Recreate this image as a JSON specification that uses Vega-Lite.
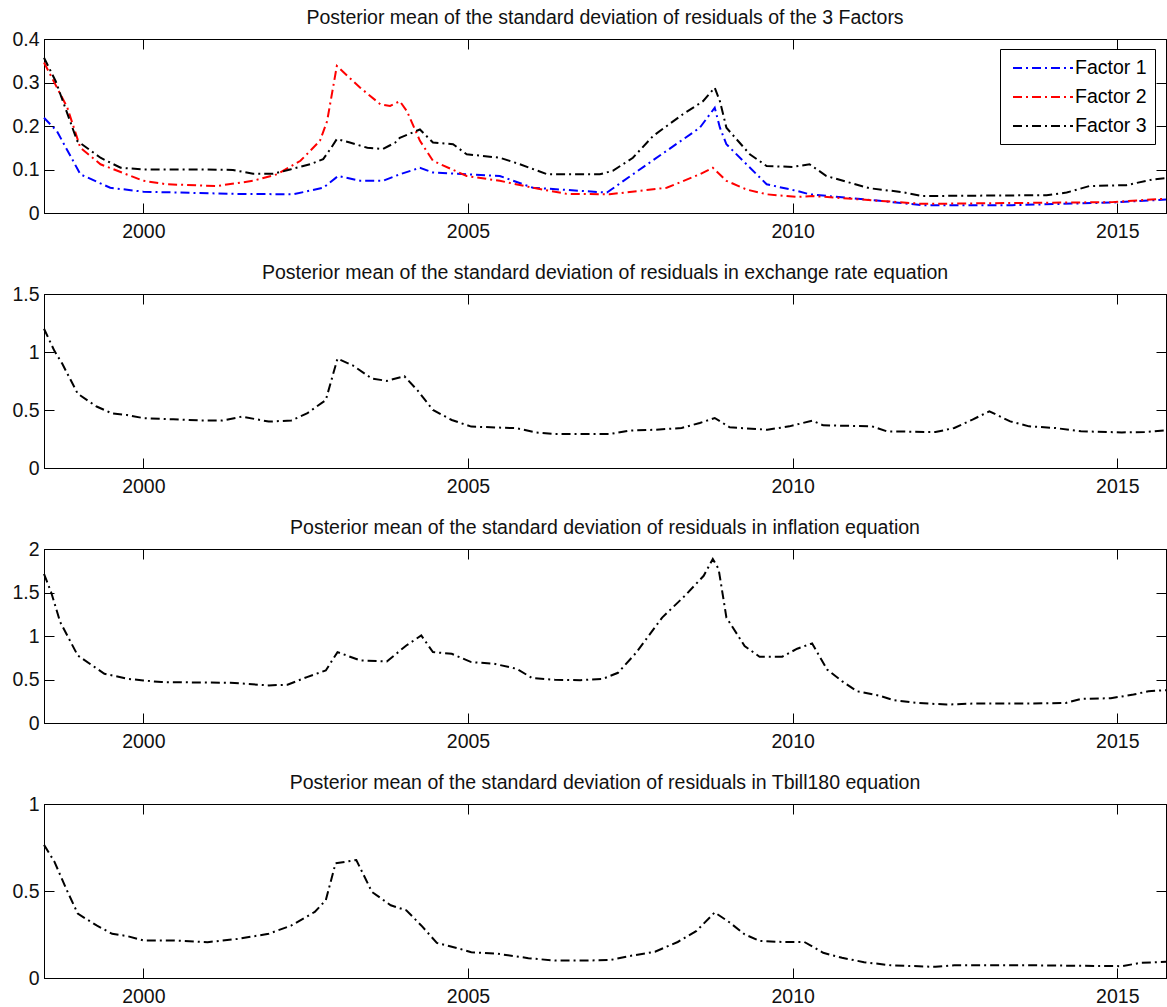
{
  "$schema": "https://vega.github.io/schema/vega-lite/v6.json",
  "padding": {"left": 11, "top": 7, "right": 0, "bottom": 0},
  "spacing": 21,
  "datasets": {
    "p1": [
      {"t":1998.47,"v":0.219,"s":"Factor 1"},{"t":1998.67,"v":0.188,"s":"Factor 1"},{"t":1999.03,"v":0.089,"s":"Factor 1"},{"t":1999.49,"v":0.058,"s":"Factor 1"},{"t":2000.0,"v":0.049,"s":"Factor 1"},{"t":2001.38,"v":0.044,"s":"Factor 1"},{"t":2002.31,"v":0.043,"s":"Factor 1"},{"t":2002.77,"v":0.058,"s":"Factor 1"},{"t":2003.0,"v":0.085,"s":"Factor 1"},{"t":2003.34,"v":0.074,"s":"Factor 1"},{"t":2003.69,"v":0.074,"s":"Factor 1"},{"t":2003.95,"v":0.089,"s":"Factor 1"},{"t":2004.26,"v":0.104,"s":"Factor 1"},{"t":2004.46,"v":0.093,"s":"Factor 1"},{"t":2005.49,"v":0.085,"s":"Factor 1"},{"t":2006.0,"v":0.058,"s":"Factor 1"},{"t":2007.14,"v":0.047,"s":"Factor 1"},{"t":2007.54,"v":0.089,"s":"Factor 1"},{"t":2008.06,"v":0.143,"s":"Factor 1"},{"t":2008.57,"v":0.196,"s":"Factor 1"},{"t":2008.8,"v":0.242,"s":"Factor 1"},{"t":2008.88,"v":0.196,"s":"Factor 1"},{"t":2008.98,"v":0.158,"s":"Factor 1"},{"t":2009.6,"v":0.066,"s":"Factor 1"},{"t":2010.06,"v":0.051,"s":"Factor 1"},{"t":2010.26,"v":0.043,"s":"Factor 1"},{"t":2011.34,"v":0.028,"s":"Factor 1"},{"t":2012.0,"v":0.018,"s":"Factor 1"},{"t":2013.38,"v":0.018,"s":"Factor 1"},{"t":2014.92,"v":0.024,"s":"Factor 1"},{"t":2015.75,"v":0.031,"s":"Factor 1"},
      {"t":1998.47,"v":0.346,"s":"Factor 2"},{"t":1998.83,"v":0.242,"s":"Factor 2"},{"t":1999.03,"v":0.15,"s":"Factor 2"},{"t":1999.34,"v":0.112,"s":"Factor 2"},{"t":2000.0,"v":0.074,"s":"Factor 2"},{"t":2000.36,"v":0.066,"s":"Factor 2"},{"t":2001.13,"v":0.062,"s":"Factor 2"},{"t":2001.69,"v":0.074,"s":"Factor 2"},{"t":2002.06,"v":0.089,"s":"Factor 2"},{"t":2002.42,"v":0.12,"s":"Factor 2"},{"t":2002.72,"v":0.166,"s":"Factor 2"},{"t":2002.83,"v":0.211,"s":"Factor 2"},{"t":2002.98,"v":0.338,"s":"Factor 2"},{"t":2003.34,"v":0.288,"s":"Factor 2"},{"t":2003.65,"v":0.25,"s":"Factor 2"},{"t":2003.8,"v":0.246,"s":"Factor 2"},{"t":2003.95,"v":0.257,"s":"Factor 2"},{"t":2004.06,"v":0.234,"s":"Factor 2"},{"t":2004.26,"v":0.166,"s":"Factor 2"},{"t":2004.46,"v":0.12,"s":"Factor 2"},{"t":2004.98,"v":0.085,"s":"Factor 2"},{"t":2005.49,"v":0.074,"s":"Factor 2"},{"t":2006.0,"v":0.058,"s":"Factor 2"},{"t":2006.52,"v":0.044,"s":"Factor 2"},{"t":2007.18,"v":0.043,"s":"Factor 2"},{"t":2008.06,"v":0.058,"s":"Factor 2"},{"t":2008.57,"v":0.089,"s":"Factor 2"},{"t":2008.77,"v":0.104,"s":"Factor 2"},{"t":2008.98,"v":0.074,"s":"Factor 2"},{"t":2009.29,"v":0.054,"s":"Factor 2"},{"t":2009.6,"v":0.043,"s":"Factor 2"},{"t":2010.06,"v":0.037,"s":"Factor 2"},{"t":2010.31,"v":0.039,"s":"Factor 2"},{"t":2011.34,"v":0.028,"s":"Factor 2"},{"t":2012.0,"v":0.021,"s":"Factor 2"},{"t":2014.92,"v":0.025,"s":"Factor 2"},{"t":2015.75,"v":0.033,"s":"Factor 2"},
      {"t":1998.47,"v":0.357,"s":"Factor 3"},{"t":1998.65,"v":0.303,"s":"Factor 3"},{"t":1998.98,"v":0.166,"s":"Factor 3"},{"t":1999.34,"v":0.127,"s":"Factor 3"},{"t":1999.65,"v":0.104,"s":"Factor 3"},{"t":2000.0,"v":0.1,"s":"Factor 3"},{"t":2000.88,"v":0.1,"s":"Factor 3"},{"t":2001.38,"v":0.099,"s":"Factor 3"},{"t":2001.69,"v":0.09,"s":"Factor 3"},{"t":2002.0,"v":0.09,"s":"Factor 3"},{"t":2002.26,"v":0.1,"s":"Factor 3"},{"t":2002.57,"v":0.112,"s":"Factor 3"},{"t":2002.77,"v":0.124,"s":"Factor 3"},{"t":2002.88,"v":0.147,"s":"Factor 3"},{"t":2002.98,"v":0.17,"s":"Factor 3"},{"t":2003.18,"v":0.162,"s":"Factor 3"},{"t":2003.45,"v":0.15,"s":"Factor 3"},{"t":2003.69,"v":0.147,"s":"Factor 3"},{"t":2003.88,"v":0.162,"s":"Factor 3"},{"t":2003.95,"v":0.173,"s":"Factor 3"},{"t":2004.26,"v":0.192,"s":"Factor 3"},{"t":2004.46,"v":0.162,"s":"Factor 3"},{"t":2004.77,"v":0.158,"s":"Factor 3"},{"t":2004.98,"v":0.135,"s":"Factor 3"},{"t":2005.49,"v":0.127,"s":"Factor 3"},{"t":2005.8,"v":0.112,"s":"Factor 3"},{"t":2006.22,"v":0.089,"s":"Factor 3"},{"t":2007.03,"v":0.089,"s":"Factor 3"},{"t":2007.23,"v":0.097,"s":"Factor 3"},{"t":2007.54,"v":0.127,"s":"Factor 3"},{"t":2007.85,"v":0.177,"s":"Factor 3"},{"t":2008.31,"v":0.227,"s":"Factor 3"},{"t":2008.62,"v":0.257,"s":"Factor 3"},{"t":2008.8,"v":0.288,"s":"Factor 3"},{"t":2008.88,"v":0.257,"s":"Factor 3"},{"t":2008.98,"v":0.196,"s":"Factor 3"},{"t":2009.34,"v":0.135,"s":"Factor 3"},{"t":2009.6,"v":0.108,"s":"Factor 3"},{"t":2010.0,"v":0.106,"s":"Factor 3"},{"t":2010.26,"v":0.112,"s":"Factor 3"},{"t":2010.52,"v":0.085,"s":"Factor 3"},{"t":2011.18,"v":0.057,"s":"Factor 3"},{"t":2011.69,"v":0.048,"s":"Factor 3"},{"t":2012.0,"v":0.039,"s":"Factor 3"},{"t":2013.91,"v":0.041,"s":"Factor 3"},{"t":2014.22,"v":0.047,"s":"Factor 3"},{"t":2014.57,"v":0.062,"s":"Factor 3"},{"t":2015.14,"v":0.064,"s":"Factor 3"},{"t":2015.54,"v":0.077,"s":"Factor 3"},{"t":2015.75,"v":0.08,"s":"Factor 3"}
    ],
    "p2": [
      {"t":1998.47,"v":1.2},{"t":1998.63,"v":1.01},{"t":1998.75,"v":0.9},{"t":1998.99,"v":0.64},{"t":1999.28,"v":0.53},{"t":1999.52,"v":0.47},{"t":1999.75,"v":0.457},{"t":2000.0,"v":0.43},{"t":2000.46,"v":0.42},{"t":2000.87,"v":0.41},{"t":2001.22,"v":0.41},{"t":2001.52,"v":0.443},{"t":2001.93,"v":0.4},{"t":2002.28,"v":0.41},{"t":2002.52,"v":0.47},{"t":2002.81,"v":0.586},{"t":2002.99,"v":0.943},{"t":2003.22,"v":0.886},{"t":2003.52,"v":0.771},{"t":2003.75,"v":0.751},{"t":2004.02,"v":0.791},{"t":2004.22,"v":0.671},{"t":2004.46,"v":0.5},{"t":2004.75,"v":0.414},{"t":2005.05,"v":0.357},{"t":2005.75,"v":0.343},{"t":2006.05,"v":0.306},{"t":2006.34,"v":0.294},{"t":2006.73,"v":0.293},{"t":2007.19,"v":0.293},{"t":2007.48,"v":0.322},{"t":2007.88,"v":0.33},{"t":2008.29,"v":0.345},{"t":2008.57,"v":0.388},{"t":2008.8,"v":0.431},{"t":2009.03,"v":0.351},{"t":2009.61,"v":0.33},{"t":2009.95,"v":0.359},{"t":2010.3,"v":0.408},{"t":2010.47,"v":0.368},{"t":2011.22,"v":0.359},{"t":2011.45,"v":0.316},{"t":2012.2,"v":0.31},{"t":2012.49,"v":0.345},{"t":2012.77,"v":0.417},{"t":2013.03,"v":0.489},{"t":2013.35,"v":0.402},{"t":2013.64,"v":0.359},{"t":2014.04,"v":0.345},{"t":2014.44,"v":0.316},{"t":2015.07,"v":0.307},{"t":2015.42,"v":0.31},{"t":2015.75,"v":0.325}
    ],
    "p3": [
      {"t":1998.47,"v":1.713},{"t":1998.58,"v":1.503},{"t":1998.72,"v":1.159},{"t":1998.99,"v":0.776},{"t":1999.4,"v":0.566},{"t":1999.75,"v":0.509},{"t":2000.0,"v":0.489},{"t":2000.28,"v":0.47},{"t":2001.34,"v":0.463},{"t":2001.93,"v":0.432},{"t":2002.22,"v":0.44},{"t":2002.52,"v":0.528},{"t":2002.81,"v":0.604},{"t":2002.99,"v":0.815},{"t":2003.34,"v":0.719},{"t":2003.75,"v":0.707},{"t":2004.05,"v":0.891},{"t":2004.28,"v":1.006},{"t":2004.46,"v":0.815},{"t":2004.75,"v":0.795},{"t":2005.05,"v":0.7},{"t":2005.4,"v":0.681},{"t":2005.75,"v":0.623},{"t":2005.99,"v":0.516},{"t":2006.34,"v":0.497},{"t":2006.73,"v":0.492},{"t":2007.08,"v":0.508},{"t":2007.31,"v":0.577},{"t":2007.59,"v":0.808},{"t":2007.99,"v":1.212},{"t":2008.34,"v":1.462},{"t":2008.63,"v":1.692},{"t":2008.77,"v":1.885},{"t":2008.86,"v":1.769},{"t":2008.98,"v":1.212},{"t":2009.26,"v":0.885},{"t":2009.49,"v":0.762},{"t":2009.84,"v":0.762},{"t":2010.07,"v":0.854},{"t":2010.3,"v":0.915},{"t":2010.53,"v":0.615},{"t":2010.76,"v":0.481},{"t":2010.99,"v":0.365},{"t":2011.33,"v":0.315},{"t":2011.56,"v":0.262},{"t":2011.91,"v":0.231},{"t":2012.37,"v":0.212},{"t":2012.77,"v":0.223},{"t":2013.64,"v":0.223},{"t":2014.21,"v":0.231},{"t":2014.44,"v":0.277},{"t":2014.9,"v":0.285},{"t":2015.25,"v":0.327},{"t":2015.48,"v":0.365},{"t":2015.75,"v":0.377}
    ],
    "p4": [
      {"t":1998.47,"v":0.765},{"t":1998.63,"v":0.669},{"t":1998.81,"v":0.514},{"t":1998.99,"v":0.37},{"t":1999.28,"v":0.302},{"t":1999.52,"v":0.254},{"t":1999.75,"v":0.241},{"t":2000.0,"v":0.216},{"t":2000.46,"v":0.216},{"t":2000.99,"v":0.206},{"t":2001.46,"v":0.225},{"t":2001.93,"v":0.254},{"t":2002.28,"v":0.302},{"t":2002.64,"v":0.38},{"t":2002.81,"v":0.447},{"t":2002.96,"v":0.659},{"t":2003.28,"v":0.678},{"t":2003.52,"v":0.495},{"t":2003.81,"v":0.418},{"t":2004.05,"v":0.389},{"t":2004.28,"v":0.302},{"t":2004.52,"v":0.202},{"t":2004.87,"v":0.168},{"t":2005.05,"v":0.148},{"t":2005.46,"v":0.139},{"t":2005.93,"v":0.114},{"t":2006.34,"v":0.1},{"t":2006.73,"v":0.1},{"t":2007.19,"v":0.103},{"t":2007.48,"v":0.126},{"t":2007.88,"v":0.151},{"t":2008.23,"v":0.207},{"t":2008.52,"v":0.271},{"t":2008.8,"v":0.377},{"t":2009.03,"v":0.319},{"t":2009.26,"v":0.251},{"t":2009.49,"v":0.213},{"t":2009.84,"v":0.207},{"t":2010.18,"v":0.207},{"t":2010.47,"v":0.145},{"t":2010.76,"v":0.116},{"t":2011.1,"v":0.091},{"t":2011.51,"v":0.073},{"t":2012.2,"v":0.064},{"t":2012.49,"v":0.073},{"t":2013.64,"v":0.073},{"t":2015.07,"v":0.068},{"t":2015.36,"v":0.087},{"t":2015.75,"v":0.093}
    ]
  },
  "vconcat": [
    {
      "width": 1122, "height": 174,
      "data": {"name": "p1"},
      "title": {"text": "Posterior mean of the standard deviation of residuals of the 3 Factors"},
      "layer": [
        {
          "mark": {"type": "line", "strokeWidth": 2, "strokeDash": [9, 4, 2, 4]},
          "encoding": {
            "x": {"field": "t", "type": "quantitative", "scale": {"domain": [1998.47, 2015.75], "nice": false, "zero": false}, "axis": {"orient": "bottom", "values": [2000, 2005, 2010, 2015], "format": "d", "labelPadding": 19, "title": null}},
            "y": {"field": "v", "type": "quantitative", "scale": {"domain": [0, 0.4], "nice": false}, "axis": {"orient": "left", "values": [0, 0.1, 0.2, 0.3, 0.4], "format": "~g", "labelPadding": 15, "title": null}},
            "color": {"field": "s", "type": "nominal", "scale": {"domain": ["Factor 1", "Factor 2", "Factor 3"], "range": ["#0000ff", "#ff0000", "#000000"]},
              "legend": {"title": null, "orient": "none", "legendX": 956, "legendY": 10, "symbolType": "M0,0H6", "symbolSize": 400, "symbolOffset": -6, "symbolStrokeWidth": 2, "symbolDash": [9, 4, 2, 4], "labelOffset": 51, "labelFontSize": 19.5, "labelFont": "Liberation Sans", "labelColor": "#000", "strokeColor": "#000", "fillColor": "#fff", "padding": 8, "rowPadding": 8, "cornerRadius": 0}}
          }
        },
        {
          "mark": {"type": "line", "opacity": 0},
          "encoding": {
            "x": {"field": "t", "type": "quantitative", "axis": {"orient": "top", "values": [2000, 2005, 2010, 2015], "labels": false, "title": null}},
            "y": {"field": "v", "type": "quantitative", "axis": {"orient": "right", "values": [0, 0.1, 0.2, 0.3, 0.4], "labels": false, "title": null}},
            "detail": {"field": "s"}
          }
        }
      ],
      "resolve": {"axis": {"x": "independent", "y": "independent"}}
    },
    {
      "width": 1122, "height": 174,
      "data": {"name": "p2"},
      "title": {"text": "Posterior mean of the standard deviation of residuals in exchange rate equation"},
      "layer": [
        {
          "mark": {"type": "line", "strokeWidth": 2, "strokeDash": [9, 4, 2, 4], "color": "#000"},
          "encoding": {
            "x": {"field": "t", "type": "quantitative", "scale": {"domain": [1998.47, 2015.75], "nice": false, "zero": false}, "axis": {"orient": "bottom", "values": [2000, 2005, 2010, 2015], "format": "d", "labelPadding": 19, "title": null}},
            "y": {"field": "v", "type": "quantitative", "scale": {"domain": [0, 1.5], "nice": false}, "axis": {"orient": "left", "values": [0, 0.5, 1, 1.5], "format": "~g", "labelPadding": 15, "title": null}}
          }
        },
        {
          "mark": {"type": "line", "opacity": 0},
          "encoding": {
            "x": {"field": "t", "type": "quantitative", "axis": {"orient": "top", "values": [2000, 2005, 2010, 2015], "labels": false, "title": null}},
            "y": {"field": "v", "type": "quantitative", "axis": {"orient": "right", "values": [0, 0.5, 1, 1.5], "labels": false, "title": null}}
          }
        }
      ],
      "resolve": {"axis": {"x": "independent", "y": "independent"}}
    },
    {
      "width": 1122, "height": 174,
      "data": {"name": "p3"},
      "title": {"text": "Posterior mean of the standard deviation of residuals in inflation equation"},
      "layer": [
        {
          "mark": {"type": "line", "strokeWidth": 2, "strokeDash": [9, 4, 2, 4], "color": "#000"},
          "encoding": {
            "x": {"field": "t", "type": "quantitative", "scale": {"domain": [1998.47, 2015.75], "nice": false, "zero": false}, "axis": {"orient": "bottom", "values": [2000, 2005, 2010, 2015], "format": "d", "labelPadding": 19, "title": null}},
            "y": {"field": "v", "type": "quantitative", "scale": {"domain": [0, 2], "nice": false}, "axis": {"orient": "left", "values": [0, 0.5, 1, 1.5, 2], "format": "~g", "labelPadding": 15, "title": null}}
          }
        },
        {
          "mark": {"type": "line", "opacity": 0},
          "encoding": {
            "x": {"field": "t", "type": "quantitative", "axis": {"orient": "top", "values": [2000, 2005, 2010, 2015], "labels": false, "title": null}},
            "y": {"field": "v", "type": "quantitative", "axis": {"orient": "right", "values": [0, 0.5, 1, 1.5, 2], "labels": false, "title": null}}
          }
        }
      ],
      "resolve": {"axis": {"x": "independent", "y": "independent"}}
    },
    {
      "width": 1122, "height": 174,
      "data": {"name": "p4"},
      "title": {"text": "Posterior mean of the standard deviation of residuals in Tbill180 equation"},
      "layer": [
        {
          "mark": {"type": "line", "strokeWidth": 2, "strokeDash": [9, 4, 2, 4], "color": "#000"},
          "encoding": {
            "x": {"field": "t", "type": "quantitative", "scale": {"domain": [1998.47, 2015.75], "nice": false, "zero": false}, "axis": {"orient": "bottom", "values": [2000, 2005, 2010, 2015], "format": "d", "labelPadding": 19, "title": null}},
            "y": {"field": "v", "type": "quantitative", "scale": {"domain": [0, 1], "nice": false}, "axis": {"orient": "left", "values": [0, 0.5, 1], "format": "~g", "labelPadding": 15, "title": null}}
          }
        },
        {
          "mark": {"type": "line", "opacity": 0},
          "encoding": {
            "x": {"field": "t", "type": "quantitative", "axis": {"orient": "top", "values": [2000, 2005, 2010, 2015], "labels": false, "title": null}},
            "y": {"field": "v", "type": "quantitative", "axis": {"orient": "right", "values": [0, 0.5, 1], "labels": false, "title": null}}
          }
        }
      ],
      "resolve": {"axis": {"x": "independent", "y": "independent"}}
    }
  ],
  "config": {
    "font": "Liberation Sans",
    "background": "#ffffff",
    "view": {"stroke": "#000", "strokeWidth": 1},
    "axis": {"grid": false, "domain": true, "domainColor": "#000", "domainWidth": 1, "ticks": true, "tickColor": "#000", "tickWidth": 1, "tickSize": -10, "labelFont": "Liberation Sans", "labelFontSize": 19.5, "labelColor": "#111", "labelFlush": false, "labelOverlap": false, "labelBound": false},
    "title": {"font": "Liberation Sans", "fontSize": 19.5, "fontWeight": "normal", "color": "#111", "anchor": "middle", "baseline": "alphabetic", "offset": 1},
    "line": {"interpolate": "linear"}
  }
}
